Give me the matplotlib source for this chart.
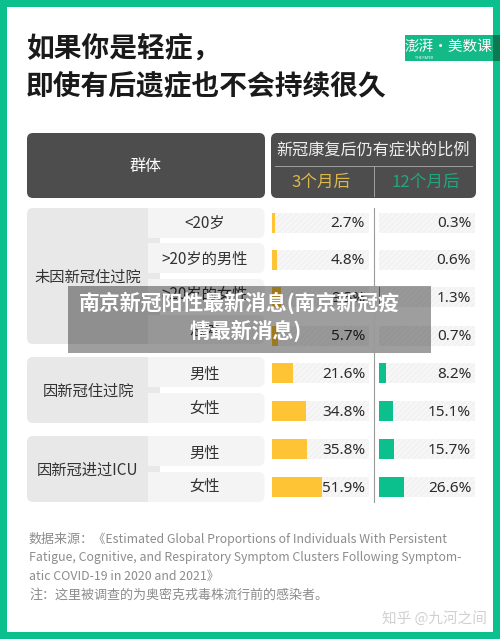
# -*- coding: utf-8 -*-
import matplotlib
matplotlib.use('Agg')
import matplotlib.pyplot as plt
from matplotlib.patches import FancyBboxPatch, Rectangle

plt.rcParams['font.family'] = ['Noto Sans CJK SC', 'DejaVu Sans']
plt.rcParams['hatch.linewidth'] = 0.4

W, H = 500, 639

groups = ['未因新冠住过院', '因新冠住过院', '因新冠进过ICU']
row_labels = ['<20岁', '>20岁的男性', '>20岁的女性', '总体', '男性', '女性', '男性', '女性']
after_3m = [2.7, 4.8, 9.3, 5.7, 21.6, 34.8, 35.8, 51.9]
after_12m = [0.3, 0.6, 1.3, 0.7, 8.2, 15.1, 15.7, 26.6]
labels_3m = ['2.7%', '4.8%', '9.3%', '5.7%', '21.6%', '34.8%', '35.8%', '51.9%']
labels_12m = ['0.3%', '0.6%', '1.3%', '0.7%', '8.2%', '15.1%', '15.7%', '26.6%']

# 像素布局
row_y = [222.5, 260, 297, 335.5, 373, 411, 449, 487]
cell_spans = [(208, 238), (243, 273), (279, 311), (315, 344), (357, 387), (393, 423), (436, 466), (472, 502)]
label_y = [223, 259, 294, 331, 374, 408, 453, 486]
group_spans = [(208, 344), (357, 423), (436, 502)]
group_text_y = [277, 391.5, 470]

GREEN = '#0bc08c'
YELLOW = '#fec435'
DARK = '#4d4d4d'


def round_box(ax, x0, y0, x1, y1, color, r=6, z=1):
    ax.add_patch(FancyBboxPatch((x0 + r, y0 + r), x1 - x0 - 2 * r, y1 - y0 - 2 * r,
                                boxstyle='round,pad=%d,rounding_size=%d' % (r, r),
                                fc=color, ec='none', zorder=z))


def bar_axes(fig, left, width, values, labels, color, text_x):
    a = fig.add_axes([left / W, 0, width / W, 1])
    a.set_xlim(0, 100)
    a.set_ylim(H, 0)
    a.axis('off')
    a.patch.set_alpha(0)
    a.barh(row_y, [100] * len(row_y), height=20, color='#f6f6f6', edgecolor='#ebebeb',
           hatch='//////', linewidth=0)
    a.barh(row_y, values, height=20, color=color, linewidth=0)
    for y, s in zip(row_y, labels):
        a.text(text_x, y + 1, s, ha='right', va='center', fontsize=11, color='#2b2b2b',
               family=['Noto Sans', 'DejaVu Sans'])
    return a


fig = plt.figure(figsize=(W / 100, H / 100), dpi=100, facecolor='white')

ax = fig.add_axes([0, 0, 1, 1])
ax.set_xlim(0, W)
ax.set_ylim(H, 0)
ax.axis('off')

# 绿色边框
ax.add_patch(Rectangle((0, 0), W, 7, fc=GREEN, ec='none'))
ax.add_patch(Rectangle((0, 632), W, 7, fc=GREEN, ec='none'))
ax.add_patch(Rectangle((0, 0), 7, H, fc=GREEN, ec='none'))
ax.add_patch(Rectangle((493, 0), 7, H, fc=GREEN, ec='none'))

# 标题
ax.text(26, 48, '如果你是轻症，', fontsize=20, fontweight='bold', color='#1a1a1a', va='center')
ax.text(26, 86, '即使有后遗症也不会持续很久', fontsize=20, fontweight='bold', color='#1a1a1a', va='center')

# 右上角标识
ax.add_patch(Rectangle((405, 35), 88, 25.5, fc='#14b988', ec='none', zorder=2))
ax.add_patch(Rectangle((493, 35), 7, 25.5, fc='#0b7a50', ec='none', zorder=2))
ax.text(448.5, 47, '澎湃·美数课', fontsize=10.5, color='white', ha='center', va='center', zorder=3)
ax.text(424, 58, 'THE PAPER', fontsize=2.5, color='white', ha='center', va='center', zorder=3)

# 表头
round_box(ax, 27, 133, 265, 198, DARK)
round_box(ax, 271, 133, 476, 198, DARK)
ax.text(145, 166, '群体', fontsize=11.5, color='white', ha='center', va='center', zorder=3)
ax.text(373.5, 149.5, '新冠康复后仍有症状的比例', fontsize=11.6, color='#eeeeee', ha='center', va='center', zorder=3)
ax.plot([275, 472], [165.5, 165.5], color='#a0a0a0', lw=0.7, zorder=3)
ax.plot([373.5, 373.5], [165.5, 196], color='#a0a0a0', lw=0.7, zorder=3)
ax.text(321, 182, '3个月后', fontsize=12, color='#dcb74a', ha='center', va='center', zorder=3)
ax.text(426, 182, '12个月后', fontsize=12, color='#22a67e', ha='center', va='center', zorder=3)

# 左侧分组和行
for (y0, y1), name, ty in zip(group_spans, groups, group_text_y):
    round_box(ax, 27, y0, 160, y1, '#e8e8e8', z=2)
    ax.text(88, ty, name, fontsize=11, color='#333333', ha='center', va='center', zorder=5)
for (y0, y1), name, ty in zip(cell_spans, row_labels, label_y):
    round_box(ax, 130, y0, 264.5, y1, '#f4f4f4', z=1)
    ax.add_patch(Rectangle((147.5, y0), 20, y1 - y0, fc='#f4f4f4', ec='none', zorder=3))
    ax.text(205, ty, name, fontsize=11, color='#333333', ha='center', va='center', zorder=5)

# 来源
ax.text(29, 539, '数据来源：', fontsize=9.4, color='#8c8c8c', va='center')
ax.text(93, 539, '《Estimated Global Proportions of Individuals With Persistent', fontsize=8.9,
        color='#8c8c8c', va='center')
ax.text(29, 557.5, 'Fatigue, Cognitive, and Respiratory Symptom Clusters Following Symptom-',
        fontsize=8.9, color='#8c8c8c', va='center')
ax.text(29, 576, 'atic COVID-19 in 2020 and 2021》', fontsize=8.9, color='#8c8c8c', va='center')
ax.text(29, 595, '注：这里被调查的为奥密克戎毒株流行前的感染者。', fontsize=9.4, color='#8c8c8c', va='center')
ax.text(487, 618, '知乎 @九河之间', fontsize=10.5, color='#d0d0d0', ha='right', va='center')

# 条形
bar_axes(fig, 272, 96.5, after_3m, labels_3m, YELLOW, 96.5)
bar_axes(fig, 378.5, 96.5, after_12m, labels_12m, GREEN, 96)

# 中间竖线和遮罩标题
top = fig.add_axes([0, 0, 1, 1])
top.set_xlim(0, W)
top.set_ylim(H, 0)
top.axis('off')
top.patch.set_alpha(0)
top.plot([373.5, 373.5], [208, 502], color='#9a9a9a', lw=0.8)
top.add_patch(Rectangle((68, 286), 363, 67, fc='black', alpha=0.38, ec='none'))
top.text(239, 303, '南京新冠阳性最新消息(南京新冠疫', fontsize=15, fontweight='bold', color='white', ha='center', va='center')
top.text(246, 331, '情最新消息)', fontsize=15, fontweight='bold', color='white', ha='center', va='center')

fig.savefig('out.png', dpi=100)
